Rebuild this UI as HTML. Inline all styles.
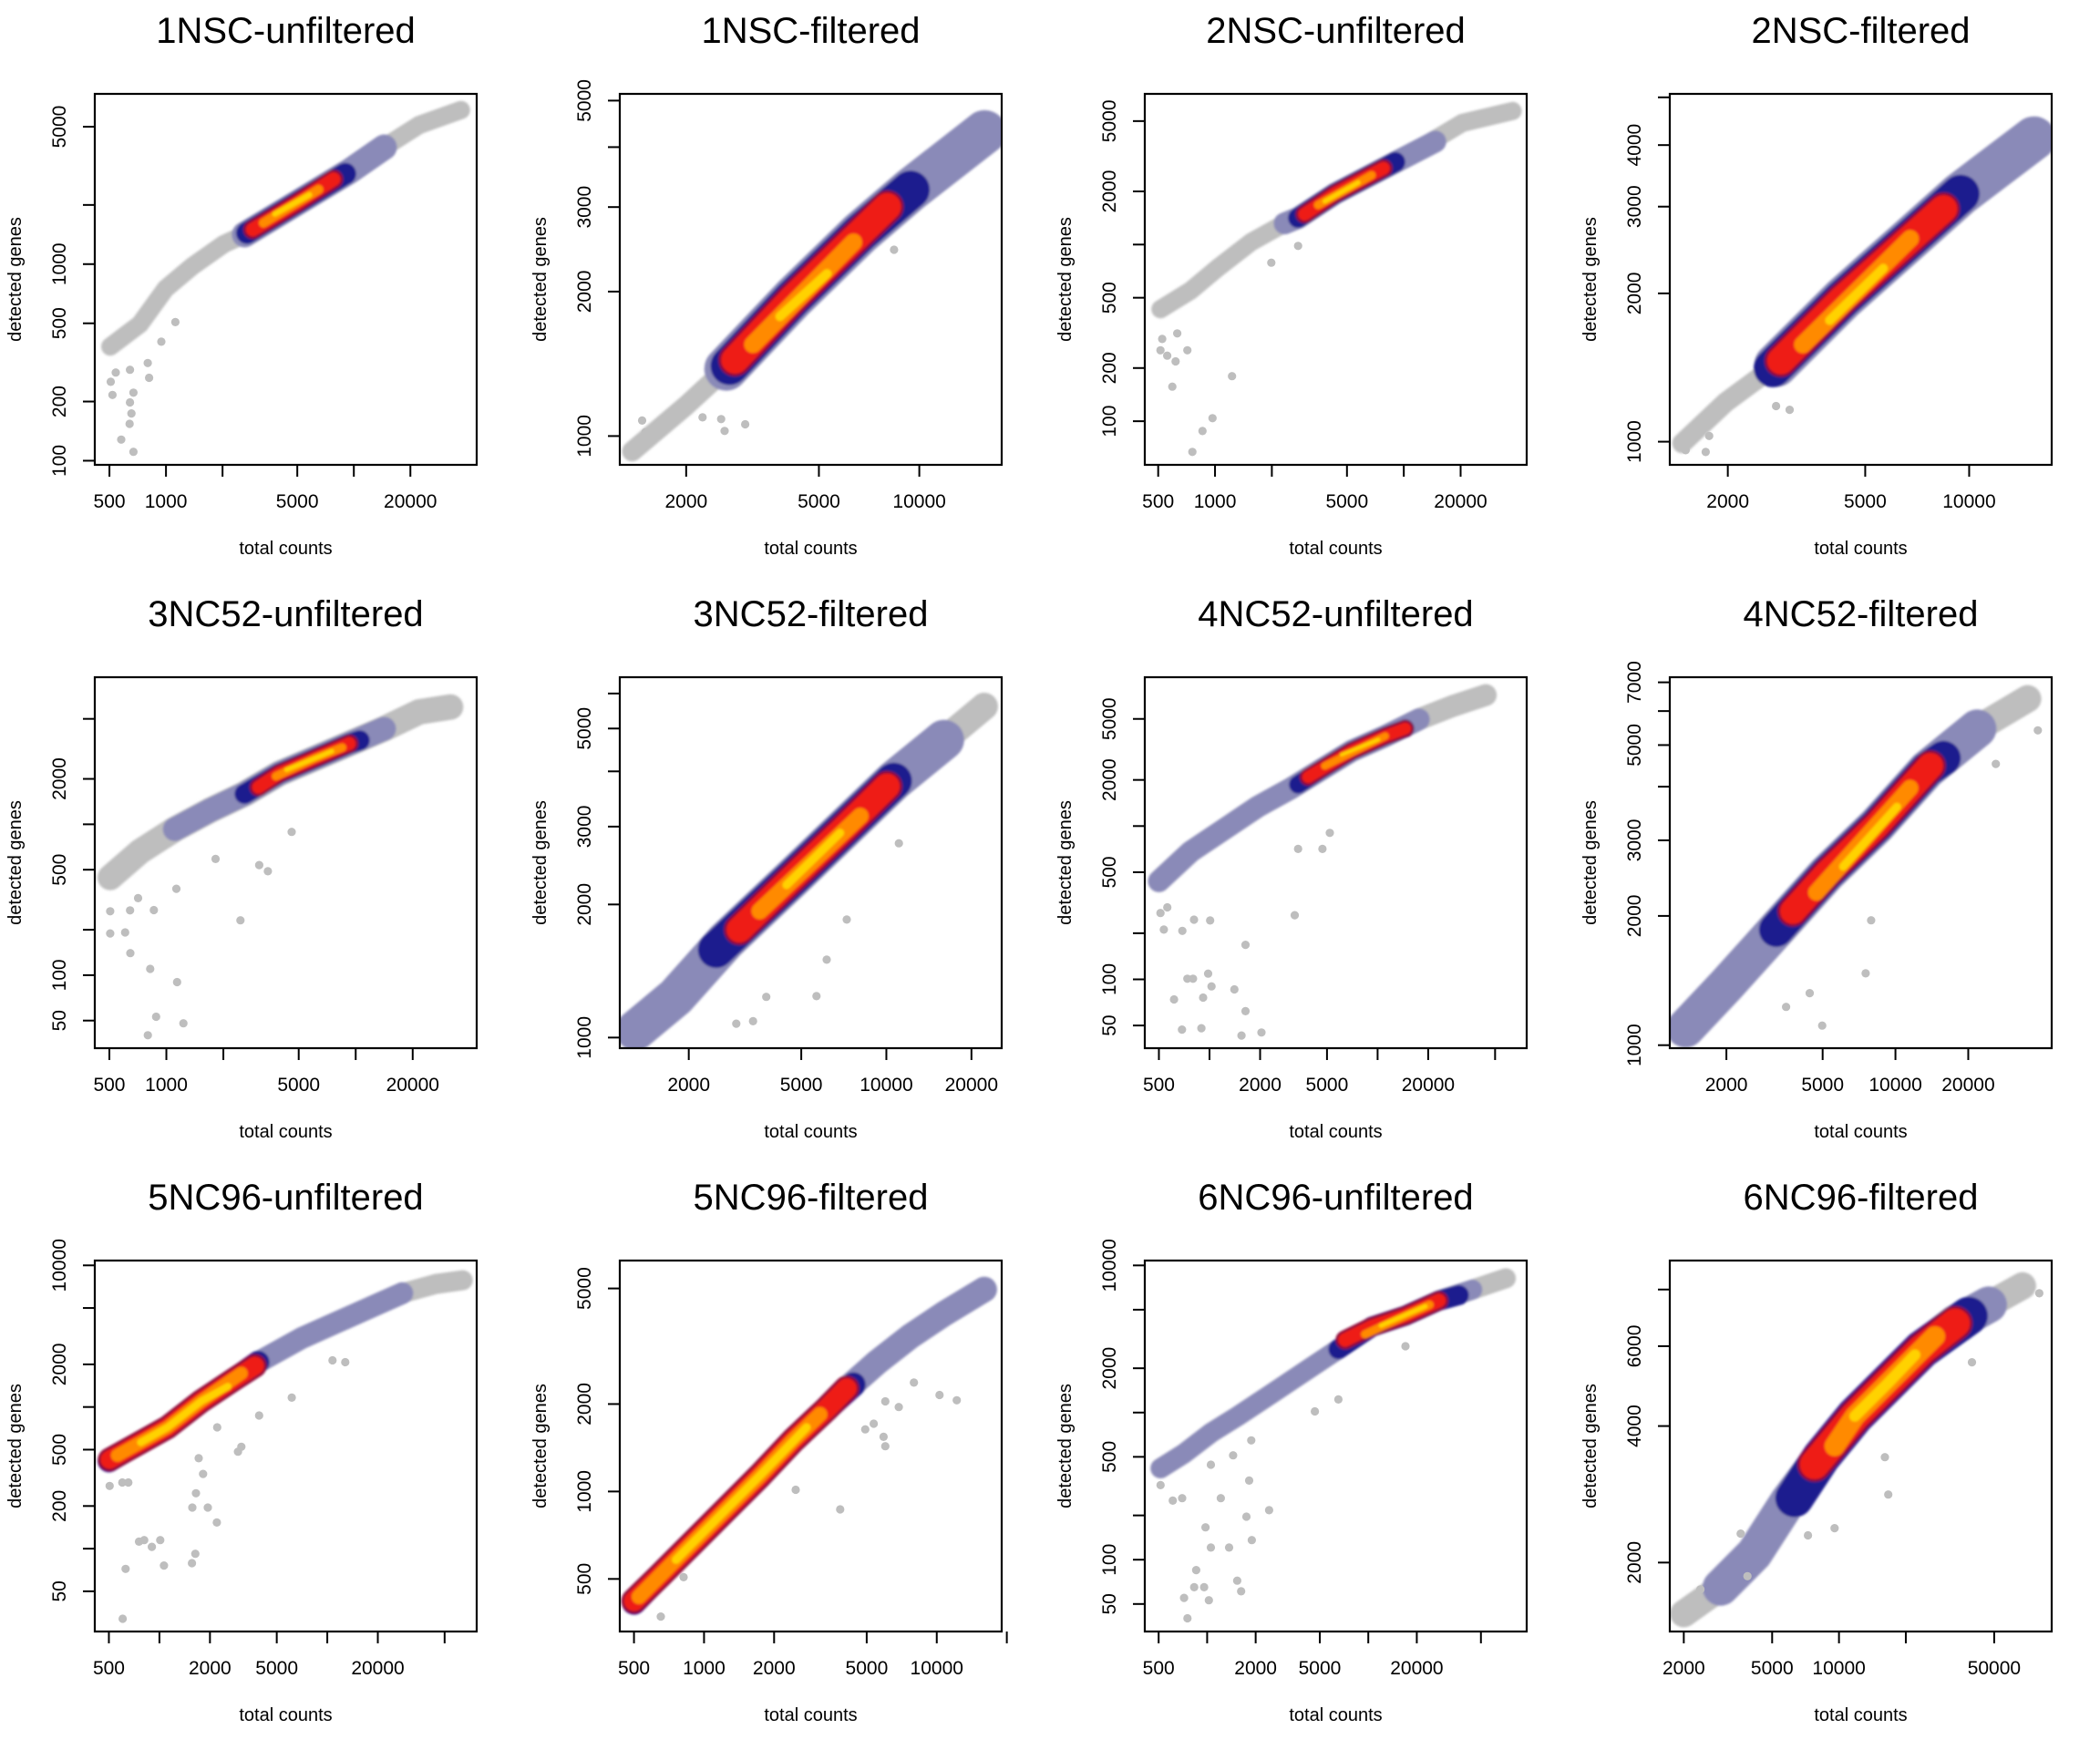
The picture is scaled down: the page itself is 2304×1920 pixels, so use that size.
<!DOCTYPE html>
<html><head><meta charset="utf-8"><title>QC scatter panels</title>
<style>
html,body{margin:0;padding:0;background:#fff;}
svg{display:block;font-family:"Liberation Sans",Arial,sans-serif;}
</style></head>
<body>
<svg id="chart" xmlns="http://www.w3.org/2000/svg" width="2304" height="1920" viewBox="0 0 2304 1920"></svg>
<script>
// ---------- data ----------
const titles = ['1NSC-unfiltered','1NSC-filtered','2NSC-unfiltered','2NSC-filtered','3NC52-unfiltered','3NC52-filtered','4NC52-unfiltered','4NC52-filtered','5NC96-unfiltered','5NC96-filtered','6NC96-unfiltered','6NC96-filtered'];

const xTicksWide = [500,1000,2000,5000,10000,20000];
const xLabelsWide = ['500','1000','','5000','','20000'];
const xTicksWide2 = [500,1000,2000,5000,10000,20000,50000];
const xLabelsWide2 = ['500','','2000','5000','','20000',''];
const xTicksNarrow = [2000,5000,10000];
const xLabelsNarrow = ['2000','5000','10000'];
const xTicksMid = [2000,5000,10000,20000];
const xLabelsMid = ['2000','5000','10000','20000'];
const xTicks10 = [500,1000,2000,5000,10000,20000];
const xLabels10 = ['500','1000','2000','5000','10000',''];
const xTicks12 = [2000,5000,10000,20000,50000];
const xLabels12 = ['2000','5000','10000','','50000'];

const yTicks1 = [100,200,500,1000,2000,5000];
const yLabels1 = ['100','200','500','1000','','5000'];
const yTicks2 = [1000,2000,3000,4000,5000];
const yLabels2 = ['1000','2000','3000','','5000'];
const yTicks3 = [100,200,500,1000,2000,5000];
const yLabels3 = ['100','200','500','','2000','5000'];
const yTicks4 = [1000,2000,3000,4000,5000];
const yLabels4 = ['1000','2000','3000','4000',''];
const yTicks5 = [50,100,200,500,1000,2000,5000];
const yLabels5 = ['50','100','','500','','2000',''];
const yTicks6 = [1000,2000,3000,4000,5000,6000];
const yLabels6 = ['1000','2000','3000','','5000',''];
const yTicks7 = [50,100,200,500,1000,2000,5000];
const yLabels7 = ['50','100','','500','','2000','5000'];
const yTicks8 = [1000,2000,3000,4000,5000,6000,7000];
const yLabels8 = ['1000','2000','3000','','5000','','7000'];
const yTicks9 = [50,100,200,500,1000,2000,5000,10000];
const yLabels9 = ['50','','200','500','','2000','','10000'];
const yTicks10 = [500,1000,2000,5000];
const yLabels10 = ['500','1000','2000','5000'];
const yTicks11 = [50,100,200,500,1000,2000,5000,10000];
const yLabels11 = ['50','100','','500','','2000','','10000'];
const yTicks12 = [2000,4000,6000,8000];
const yLabels12 = ['2000','4000','6000',''];

// [total counts, detected genes]
const p1Gray=[[505,381],[726,495],[995,750],[1380,975],[2030,1265],[2620,1413],[4980,2046],[9460,2965],[14500,3935],[22300,5105],[37200,6080]];
const p1Lav=[[2620,1413],[4980,2046],[9460,2965],[14500,3935]];
const p1Navy=[[2700,1440],[4980,2046],[9000,2880]];
const p1Red=[[2900,1500],[4980,2046],[7800,2700]];
const p1Orange=[[3300,1620],[6500,2400]];
const p1Yellow=[[3800,1800],[5800,2250]];
const p1Out=[[540,281],[643,290],[800,314],[813,264],[508,252],[519,216],[671,222],[643,198],[655,174],[640,154],[578,128],[671,111],[1122,507],[944,403]];

const p2Gray=[[1377,929],[1995,1156],[2636,1381],[4190,1940],[6650,2650],[9420,3260],[15700,4300]];
const p2Lav=[[2636,1381],[4190,1940],[6650,2650],[9420,3260],[15700,4300]];
const p2Navy=[[2700,1400],[4190,1940],[6650,2650],[9420,3260]];
const p2Red=[[2800,1440],[4190,1940],[6650,2650],[8020,3005]];
const p2Orange=[[3170,1552],[6350,2535]];
const p2Yellow=[[3820,1775],[5290,2180]];
const p2Out=[[1476,1077],[1510,1019],[2546,1085],[2607,1025],[3006,1058],[2240,1094],[8400,2445]];

const p3Gray=[[514,431],[743,549],[1030,735],[1552,1033],[2337,1317],[2755,1415],[4320,1940],[7960,2725],[12000,3475],[20400,4880],[37700,5700]];
const p3Lav=[[2337,1317],[2755,1415],[4320,1940],[7960,2725],[14700,3830]];
const p3Navy=[[2755,1415],[4320,1940],[7960,2725],[9010,2930]];
const p3Red=[[2985,1485],[4320,1940],[7800,2700]];
const p3Orange=[[3515,1676],[6760,2470]];
const p3Yellow=[[3815,1758],[5740,2245]];
const p3Out=[[525,292],[514,252],[558,235],[618,218],[714,252],[631,314],[594,157],[1230,180],[970,104],[858,88],[759,67],[2755,983],[1986,790]];

const p4Gray=[[1476,993],[1972,1202],[2760,1430],[4315,1954],[6750,2582],[9440,3185],[15400,4130]];
const p4Lav=[[2760,1430],[4315,1954],[6750,2582],[9440,3185],[15400,4130]];
const p4Navy=[[2700,1410],[4315,1954],[6750,2582],[9440,3185]];
const p4Red=[[2850,1460],[4315,1954],[6750,2582],[8430,2970]];
const p4Orange=[[3297,1574],[6750,2582]];
const p4Yellow=[[3945,1763],[5640,2248]];
const p4Out=[[1510,961],[1726,953],[1766,1027],[3020,1161],[2760,1181]];

const p5Gray=[[505,444],[724,659],[1107,927],[1693,1233],[2588,1592],[3958,2177],[6050,2731],[9250,3425],[14140,4300],[21600,5560],[31700,5990]];
const p5Lav=[[1107,927],[1693,1233],[2588,1592],[3958,2177],[6050,2731],[9250,3425],[14140,4300]];
const p5Navy=[[2588,1592],[3958,2177],[6050,2731],[9250,3425],[10500,3600]];
const p5Red=[[3070,1760],[3958,2177],[6050,2731],[9250,3425]];
const p5Orange=[[3790,2080],[6050,2731],[8490,3230]];
const p5Yellow=[[4310,2300],[6050,2731],[7480,3050]];
const p5Out=[[505,265],[505,189],[606,192],[645,140],[822,110],[1140,90],[883,53],[798,40],[1230,48],[2462,231],[3092,537],[3437,488],[4590,891],[1820,589],[1130,374],[859,270],[709,324],[643,269]];

const p6Gray=[[1297,1038],[1800,1236],[2710,1656],[4680,2303],[7050,2960],[10620,3808],[16000,4714],[22200,5611]];
const p6Lav=[[1297,1038],[1800,1236],[2710,1656],[4680,2303],[7050,2960],[10620,3808],[16000,4714]];
const p6Navy=[[2500,1580],[4680,2303],[7050,2960],[10620,3808]];
const p6Red=[[3020,1754],[4680,2303],[7050,2960],[10050,3700]];
const p6Orange=[[3565,1932],[8090,3170]];
const p6Yellow=[[4435,2213],[6860,2904]];
const p6Out=[[5660,1241],[7240,1849],[6150,1500],[3375,1089],[2945,1075],[3760,1236],[11070,2750]];

const p7Gray=[[500,437],[773,682],[1224,955],[1937,1338],[3067,1767],[4430,2272],[7010,3090],[11100,3865],[17600,4970],[27800,6050],[44000,7150]];
const p7Lav=[[500,437],[773,682],[1224,955],[1937,1338],[3067,1767],[4430,2272],[7010,3090],[11100,3865],[17600,4970]];
const p7Navy=[[3365,1866],[4430,2272],[7010,3090],[11100,3865],[14600,4325]];
const p7Red=[[3865,2090],[7010,3090],[11100,3865],[14600,4325]];
const p7Orange=[[4855,2470],[11100,3865]];
const p7Yellow=[[6110,2925],[10100,3660]];
const p7Out=[[511,271],[535,211],[689,207],[809,245],[1009,242],[561,295],[738,101],[798,101],[981,109],[1028,90],[615,74],[916,76],[1406,86],[1637,62],[686,47],[895,48],[1549,43],[2038,45],[1637,168],[3213,262],[3365,709],[4700,709],[5200,902]];

const p8Gray=[[1355,1094],[1990,1377],[3215,1858],[5190,2507],[8370,3251],[13500,4385],[21800,5460],[35200,6410]];
const p8Lav=[[1355,1094],[1990,1377],[3215,1858],[5190,2507],[8370,3251],[13500,4385],[21800,5460]];
const p8Navy=[[3215,1858],[5190,2507],[8370,3251],[13500,4385],[15800,4660]];
const p8Red=[[3767,2051],[5190,2507],[8370,3251],[13950,4475]];
const p8Orange=[[4710,2269],[11500,3970]];
const p8Yellow=[[6080,2605],[10140,3590]];
const p8Out=[[7930,1954],[7530,1470],[4980,1111],[3530,1228],[4420,1322],[26000,4520],[38800,5410]];

const p9Gray=[[500,416],[706,530],[1117,718],[1770,1097],[2805,1577],[4055,2135],[7045,3070],[11150,3915],[17670,4990],[28000,6360],[44400,7390],[64000,7855]];
const p9Lav=[[4055,2135],[7045,3070],[11150,3915],[17670,4990],[28000,6360]];
const p9Navy=[[500,416],[706,530],[1117,718],[1770,1097],[2805,1577],[3873,2070]];
const p9Red=[[505,425],[706,530],[1117,718],[1770,1097],[2805,1577],[3700,1950]];
const p9Orange=[[561,456],[1117,718],[1770,1097],[3075,1730]];
const p9Yellow=[[774,563],[1117,718],[1770,1097],[2558,1396]];
const p9Out=[[505,277],[601,293],[653,293],[756,112],[811,115],[901,103],[1011,115],[1064,76],[629,72],[604,32],[1563,79],[1637,92],[1570,195],[1941,195],[2198,153],[1650,246],[1820,337],[1714,435],[2938,484],[3075,524],[3924,871],[6140,1165],[10740,2136],[12800,2072],[2208,718]];

const p10Gray=[[500,415],[641,510],[893,665],[1245,868],[1734,1132],[2415,1500],[3367,1928],[3975,2200],[5540,2785],[7710,3425],[10750,4090],[16000,4960]];
const p10Lav=[[3367,1928],[3975,2200],[5540,2785],[7710,3425],[10750,4090],[16000,4960]];
const p10Navy=[[500,415],[641,510],[893,665],[1245,868],[1734,1132],[2415,1500],[3367,1928],[4385,2333]];
const p10Red=[[500,420],[641,510],[893,665],[1245,868],[1734,1132],[2415,1500],[3367,1928],[4100,2264]];
const p10Orange=[[525,434],[893,665],[1245,868],[1734,1132],[2415,1500],[3150,1842]];
const p10Yellow=[[757,582],[1245,868],[1734,1132],[2760,1663]];
const p10Out=[[652,371],[817,507],[2477,1014],[3845,868],[6010,1432],[5910,1542],[4930,1636],[5360,1711],[10280,2149],[12190,2061],[6870,1953],[6010,2043],[7980,2370]];

const p11Gray=[[514,418],[719,527],[1055,727],[1548,945],[2500,1340],[4040,1901],[6520,2697],[10520,3830],[17000,4560],[27400,5760],[44200,6850],[71400,8170]];
const p11Lav=[[514,418],[719,527],[1055,727],[1548,945],[2500,1340],[4040,1901],[6520,2697],[10520,3830],[17000,4560],[27400,5760],[44200,6850]];
const p11Navy=[[6520,2697],[10520,3830],[17000,4560],[27400,5760],[36500,6280]];
const p11Red=[[7180,3120],[10520,3830],[17000,4560],[27400,5760]];
const p11Orange=[[9550,3405],[17000,4560],[24000,5400]];
const p11Yellow=[[12000,3900],[22600,5270]];
const p11Out=[[514,321],[612,252],[700,262],[977,166],[1055,121],[1368,121],[855,85],[831,65],[958,65],[719,55],[1025,53],[755,40],[1536,72],[1626,61],[1892,136],[1753,196],[1216,262],[2425,217],[1822,345],[1055,442],[1449,512],[1877,647],[4660,1019],[6520,1228],[17000,2825]];

const p12Gray=[[2000,1543],[2930,1762],[4150,2090],[5870,2722],[8320,3415],[11780,4205],[16670,4980],[23600,5900],[33400,6740],[47300,7410],[67000,8150]];
const p12Lav=[[2930,1762],[4150,2090],[5870,2722],[8320,3415],[11780,4205],[16670,4980],[23600,5900],[33400,6740],[47300,7410]];
const p12Navy=[[6300,2775],[8320,3415],[11780,4205],[16670,4980],[23600,5900],[38400,7000]];
const p12Red=[[7760,3290],[11780,4205],[16670,4980],[23600,5900],[33400,6740]];
const p12Orange=[[9550,3612],[11780,4205],[16670,4980],[27100,6310]];
const p12Yellow=[[11780,4205],[16670,4980],[22000,5740]];
const p12Out=[[16670,2826],[16100,3415],[39700,5530],[79800,7850],[2376,1745],[2000,1514],[3870,1866],[7250,2296],[9550,2382],[3610,2317]];

// ---------- panel configuration (axis limits in log10 and band widths are layout/style) ----------
const panels = [
 {xl:[2.621,4.654],yl:[1.979,3.866],xt:xTicksWide,xlab:xLabelsWide,yt:yTicks1,ylab:yLabels1,layers:[p1Gray,p1Lav,p1Navy,p1Red,p1Orange,p1Yellow],out:p1Out,w:[20,28,24,15,10,6]},
 {xl:[3.102,4.247],yl:[2.940,3.713],xt:xTicksNarrow,xlab:xLabelsNarrow,yt:yTicks2,ylab:yLabels2,layers:[p2Gray,p2Lav,p2Navy,p2Red,p2Orange,p2Yellow],out:p2Out,w:[22,48,42,30,19,10]},
 {xl:[2.628,4.651],yl:[1.753,3.853],xt:xTicksWide,xlab:xLabelsWide,yt:yTicks3,ylab:yLabels3,layers:[p3Gray,p3Lav,p3Navy,p3Red,p3Orange,p3Yellow],out:p3Out,w:[20,24,22,14,9,5]},
 {xl:[3.133,4.239],yl:[2.953,3.706],xt:xTicksNarrow,xlab:xLabelsNarrow,yt:yTicks4,ylab:yLabels4,layers:[p4Gray,p4Lav,p4Navy,p4Red,p4Orange,p4Yellow],out:p4Out,w:[22,48,42,30,19,10]},
 {xl:[2.622,4.639],yl:[1.516,3.975],xt:xTicksWide,xlab:xLabelsWide,yt:yTicks5,ylab:yLabels5,layers:[p5Gray,p5Lav,p5Navy,p5Red,p5Orange,p5Yellow],out:p5Out,w:[28,26,22,14,9,5]},
 {xl:[3.057,4.408],yl:[2.976,3.815],xt:xTicksMid,xlab:xLabelsMid,yt:yTicks6,ylab:yLabels6,layers:[p6Gray,p6Lav,p6Navy,p6Red,p6Orange,p6Yellow],out:p6Out,w:[30,44,40,28,18,9]},
 {xl:[2.615,4.887],yl:[1.551,3.971],xt:xTicksWide2,xlab:xLabelsWide2,yt:yTicks7,ylab:yLabels7,layers:[p7Gray,p7Lav,p7Navy,p7Red,p7Orange,p7Yellow],out:p7Out,w:[24,24,20,13,8,4]},
 {xl:[3.067,4.646],yl:[2.993,3.857],xt:xTicksMid,xlab:xLabelsMid,yt:yTicks8,ylab:yLabels8,layers:[p8Gray,p8Lav,p8Navy,p8Red,p8Orange,p8Yellow],out:p8Out,w:[30,42,38,28,18,9]},
 {xl:[2.615,4.890],yl:[1.415,4.034],xt:xTicksWide2,xlab:xLabelsWide2,yt:yTicks9,ylab:yLabels9,layers:[p9Gray,p9Lav,p9Navy,p9Red,p9Orange,p9Yellow],out:p9Out,w:[22,24,25,20,14,8]},
 {xl:[2.638,4.279],yl:[2.518,3.795],xt:xTicks10,xlab:xLabels10,yt:yTicks10,ylab:yLabels10,layers:[p10Gray,p10Lav,p10Navy,p10Red,p10Orange,p10Yellow],out:p10Out,w:[22,28,27,22,16,9]},
 {xl:[2.613,4.983],yl:[1.512,4.033],xt:xTicksWide2,xlab:xLabelsWide2,yt:yTicks11,ylab:yLabels11,layers:[p11Gray,p11Lav,p11Navy,p11Red,p11Orange,p11Yellow],out:p11Out,w:[22,22,22,15,9,5]},
 {xl:[3.238,4.958],yl:[3.149,3.967],xt:xTicks12,xlab:xLabels12,yt:yTicks12,ylab:yLabels12,layers:[p12Gray,p12Lav,p12Navy,p12Red,p12Orange,p12Yellow],out:p12Out,w:[30,40,42,32,22,12]}
];
const layerColors = ['#bebebe','#8a8ab8','#1c1c8e','#ee1c12','#ff8a00','#ffd200'];
const layerNames = ['gray-low-density','lavender-density','navy-density','red-density','orange-density','yellow-peak-density'];

// ---------- drawing ----------
const NS = 'http://www.w3.org/2000/svg';
const svg = document.getElementById('chart');
const BL=104, BR=523, BT=103, BB=510;
function mk(tag, attrs, parent){
  const e = document.createElementNS(NS, tag);
  for (const k in attrs) e.setAttribute(k, attrs[k]);
  parent.appendChild(e);
  return e;
}
const defs = mk('defs', {}, svg);
const blur = mk('filter', {id:'soft', x:'-10%', y:'-10%', width:'120%', height:'120%'}, defs);
mk('feGaussianBlur', {stdDeviation:1.4}, blur);

panels.forEach((p, i) => {
  const col = i % 4, row = Math.floor(i / 4);
  const g = mk('g', {transform:`translate(${col*576},${row*640})`}, svg);
  
  

  const sx = v => BL + (Math.log10(v) - p.xl[0]) / (p.xl[1] - p.xl[0]) * (BR - BL);
  const sy = v => BB - (Math.log10(v) - p.yl[0]) / (p.yl[1] - p.yl[0]) * (BB - BT);

  const cp = mk('clipPath', {id:'clip'+i}, defs);
  mk('rect', {x:BL, y:BT, width:BR-BL, height:BB-BT}, cp);

  const title = mk('text', {x:313.5, y:47, 'text-anchor':'middle', 'font-size':40, fill:'#000'}, g);
  title.textContent = titles[i];
  
  

  const plot = mk('g', {'clip-path':`url(#clip${i})`}, g);
  
  
  const bands = mk('g', {filter:'url(#soft)'}, plot);
  
  

  p.layers.forEach((pts, li) => {
    const d = pts.map((q, k) => (k ? 'L' : 'M') + sx(q[0]).toFixed(1) + ' ' + sy(q[1]).toFixed(1)).join(' ');
    if (li === 3) {
      const under = mk('path', {d:d, fill:'none', stroke:'#8e0a3a', 'stroke-width':p.w[li]+6, 'stroke-linecap':'round', 'stroke-linejoin':'round'}, bands);
      
      
    }
    const path = mk('path', {d:d, fill:'none', stroke:layerColors[li], 'stroke-width':p.w[li], 'stroke-linecap':'round', 'stroke-linejoin':'round'}, bands);
    
    
  });

  p.out.forEach(q => {
    const c = mk('circle', {cx:sx(q[0]).toFixed(1), cy:sy(q[1]).toFixed(1), r:4.6, fill:'#bebebe'}, plot);
    
    
  });

  const box = mk('rect', {x:BL, y:BT, width:BR-BL, height:BB-BT, fill:'none', stroke:'#000', 'stroke-width':2.2}, g);
  
  

  // x axis
  const xa = mk('g', {}, g);
  
  
  p.xt.forEach((v, k) => {
    const x = sx(v);
    const t = mk('line', {x1:x, x2:x, y1:BB, y2:BB+13, stroke:'#000', 'stroke-width':2}, xa);
    
    
    if (p.xlab[k]) {
      const lb = mk('text', {x:x, y:557, 'text-anchor':'middle', 'font-size':21, fill:'#000'}, xa);
      lb.textContent = p.xlab[k];
      
      
    }
  });
  const xt = mk('text', {x:313.5, y:608, 'text-anchor':'middle', 'font-size':20, fill:'#000'}, g);
  xt.textContent = 'total counts';
  
  

  // y axis
  const ya = mk('g', {}, g);
  
  
  p.yt.forEach((v, k) => {
    const y = sy(v);
    const t = mk('line', {x1:BL-13, x2:BL, y1:y, y2:y, stroke:'#000', 'stroke-width':2}, ya);
    
    
    if (p.ylab[k]) {
      const lb = mk('text', {x:72, y:y, 'text-anchor':'middle', 'font-size':21, fill:'#000', transform:`rotate(-90 72 ${y})`}, ya);
      lb.textContent = p.ylab[k];
      
      
    }
  });
  const yt = mk('text', {x:23, y:306.5, 'text-anchor':'middle', 'font-size':20, fill:'#000', transform:'rotate(-90 23 306.5)'}, g);
  yt.textContent = 'detected genes';
  
  
});
</script>
</body></html>
